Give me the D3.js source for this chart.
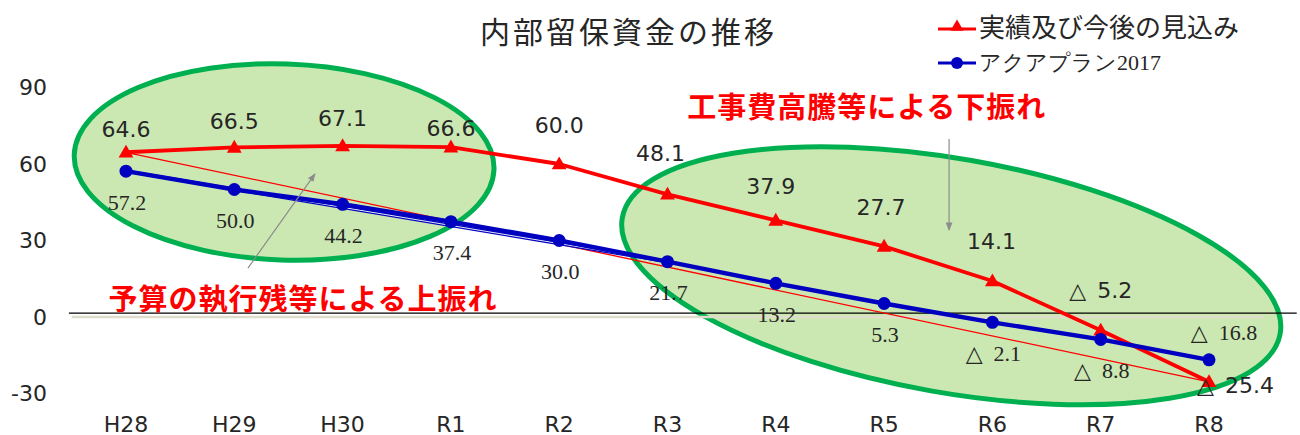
<!DOCTYPE html>
<html>
<head>
<meta charset="utf-8">
<script src="https://cdn.jsdelivr.net/npm/d3@7"></script>
<style>
	body { margin: 0; background: #fff; }
	svg { display: block; }
</style>
</head>
<body>
<svg id="chart" width="1300" height="435"></svg>
<script>
// data
const categories = ['H28', 'H29', 'H30', 'R1', 'R2', 'R3', 'R4', 'R5', 'R6', 'R7', 'R8'];
const actual = [64.6, 66.5, 67.1, 66.6, 60.0, 48.1, 37.9, 27.7, 14.1, -5.2, -25.4]; // 実績及び今後の見込み
const plan = [57.2, 50.0, 44.2, 37.4, 30.0, 21.7, 13.2, 5.3, -2.1, -8.8, -16.8]; // アクアプラン2017
const yTicks = [-30, 0, 30, 60, 90];

// label nudges (layout only)
const actualLabelDy = [-23, -26, -27, -19, -39, -41, -34, -39, -40, -40, 4];
const actualLabelDx = [0, 0, 0, 0, 0, -7, -5, -3, -1, 0, -12];

const RED = '#ff0000';
const BLUE = '#0000c0';
const TEXT = '#262626';
const SANS = '"DejaVu Sans", sans-serif';
const SERIF = '"Liberation Serif", "DejaVu Serif", serif';
const CJK = '"Noto Sans CJK JP", sans-serif';

const svg = d3.select('#chart');

const x = d3.scalePoint().domain(categories).range([126, 1209]);
const xi = d3.scaleLinear().domain([0, categories.length - 1]).range([126, 1209]);
const y = d3.scaleLinear().domain([-30, 90]).range([393.5, 87.5]);

// negative values are written with a triangle, japanese style
const fmt = v => v < 0 ? '△\u2002' + Math.abs(v).toFixed(1) : v.toFixed(1);

/* ellipses behind everything */
const ellipses = [
	{ i: 1.46, v: 60.8, rx: 210, ry: 98, rot: 2 },
	{ i: 7.62, v: 16.2, rx: 334, ry: 117, rot: 10 },
];
svg.selectAll('ellipse.hl').data(ellipses).enter().append('ellipse')
	.attr('class', 'hl')
	.attr('cx', 0).attr('cy', 0)
	.attr('rx', d => d.rx).attr('ry', d => d.ry)
	.attr('transform', d => `translate(${xi(d.i)},${y(d.v)}) rotate(${d.rot})`)
	.attr('fill', '#cce8b2')
	.attr('stroke', '#00b050')
	.attr('stroke-width', 5);

/* y axis labels */
svg.append('g').selectAll('text').data(yTicks).enter().append('text')
	.attr('x', 47).attr('y', d => y(d))
	.attr('text-anchor', 'end')
	.attr('dominant-baseline', 'central')
	.style('font-family', SANS).style('font-size', '22px').attr('fill', TEXT)
	.text(d => d);

/* x axis labels */
svg.append('g').selectAll('text').data(categories).enter().append('text')
	.attr('x', d => x(d)).attr('y', 424)
	.attr('text-anchor', 'middle')
	.attr('dominant-baseline', 'central')
	.style('font-family', SANS).style('font-size', '22px').attr('fill', TEXT)
	.text(d => d);

// axis line at zero plus the hand drawn black line just above it
svg.append('line')
	.attr('x1', xi(-0.5)).attr('x2', xi(10.5))
	.attr('y1', y(0)).attr('y2', y(0))
	.attr('stroke', '#dedccb').attr('stroke-width', 2.5);
svg.append('line')
	.attr('x1', xi(-0.527)).attr('x2', xi(10.81))
	.attr('y1', y(1.5)).attr('y2', y(1.5))
	.attr('stroke', '#000').attr('stroke-width', 1.3);

/* thin straight trend lines */
const first = 0, last = categories.length - 1;
svg.append('line')
	.attr('x1', x(categories[first])).attr('y1', y(actual[first]))
	.attr('x2', x(categories[last])).attr('y2', y(actual[last]))
	.attr('stroke', RED).attr('stroke-width', 1.3);
svg.append('line')
	.attr('x1', x(categories[0])).attr('y1', y(plan[0]))
	.attr('x2', x(categories[5])).attr('y2', y(plan[5]))
	.attr('stroke', BLUE).attr('stroke-width', 3.4);
svg.append('line')
	.attr('x1', x(categories[0])).attr('y1', y(plan[0]))
	.attr('x2', x(categories[5])).attr('y2', y(plan[5]))
	.attr('stroke', '#e6e8f4').attr('stroke-width', 1);

const line = d3.line().x((d, i) => x(categories[i])).y(d => y(d));
const tri = d3.symbol(d3.symbolTriangle, 95);

/* red series */
svg.append('path').datum(actual)
	.attr('d', line).attr('fill', 'none')
	.attr('stroke', RED).attr('stroke-width', 3.8).attr('stroke-linejoin', 'round');
svg.append('g').selectAll('path').data(actual).enter().append('path')
	.attr('d', tri)
	.attr('transform', (d, i) => `translate(${x(categories[i])},${y(d) + 1})`)
	.attr('fill', RED);

/* blue series */
svg.append('path').datum(plan)
	.attr('d', line).attr('fill', 'none')
	.attr('stroke', BLUE).attr('stroke-width', 4.4).attr('stroke-linejoin', 'round');
svg.append('g').selectAll('circle').data(plan).enter().append('circle')
	.attr('cx', (d, i) => x(categories[i])).attr('cy', d => y(d))
	.attr('r', 6.5).attr('fill', BLUE);

/* data labels */
svg.append('g').selectAll('text').data(actual).enter().append('text')
	.attr('x', (d, i) => x(categories[i]) + actualLabelDx[i])
	.attr('y', (d, i) => y(d) + actualLabelDy[i])
	.attr('text-anchor', (d, i) => i === last ? 'start' : 'middle')
	.attr('dominant-baseline', 'central')
	.style('font-family', SANS).style('font-size', '22px').attr('fill', TEXT)
	.text(fmt);

svg.append('g').selectAll('text').data(plan).enter().append('text')
	.attr('x', (d, i) => x(categories[i]) + (i === last ? 15 : 1))
	.attr('y', (d, i) => y(d) + (i === last ? -27 : 31))
	.attr('text-anchor', 'middle')
	.attr('dominant-baseline', 'central')
	.style('font-family', SERIF).style('font-size', '22px').attr('fill', TEXT)
	.text(fmt);

/* grey arrows */
svg.append('defs').append('marker')
	.attr('id', 'arr').attr('viewBox', '0 0 10 10')
	.attr('refX', 9).attr('refY', 5)
	.attr('markerWidth', 7).attr('markerHeight', 7)
	.attr('orient', 'auto-start-reverse')
	.append('path').attr('d', 'M0,1 L10,5 L0,9 z').attr('fill', '#8c8c8c');

const arrows = [
	{ i1: 1.126, v1: 19.2, i2: 1.745, v2: 56.1 },
	{ i1: 7.6, v1: 69.8, i2: 7.6, v2: 34.1 },
];
svg.append('g').selectAll('line').data(arrows).enter().append('line')
	.attr('x1', d => xi(d.i1)).attr('y1', d => y(d.v1))
	.attr('x2', d => xi(d.i2)).attr('y2', d => y(d.v2))
	.attr('stroke', '#8c8c8c').attr('stroke-width', 1.2)
	.attr('marker-end', 'url(#arr)');

/* red callouts */
const notes = [
	{ i: 6.84, v: 83.1, text: '工事費高騰等による下振れ' },
	{ i: 1.634, v: 7.8, text: '予算の執行残等による上振れ' },
];
svg.append('g').selectAll('text').data(notes).enter().append('text')
	.attr('x', d => xi(d.i)).attr('y', d => y(d.v))
	.attr('text-anchor', 'middle')
	.attr('dominant-baseline', 'central')
	.style('font-family', CJK).style('font-size', '29px').style('font-weight', 700)
	.style('letter-spacing', '1px')
	.attr('fill', RED)
	.text(d => d.text);

/* title */
svg.append('text')
	.attr('x', 480).attr('y', 30)
	.attr('dominant-baseline', 'central')
	.style('font-family', CJK).style('font-size', '30px').style('letter-spacing', '3px')
	.attr('fill', TEXT)
	.text('内部留保資金の推移');

/* legend */
const legend = svg.append('g').attr('transform', 'translate(938,0)');
legend.append('line').attr('x1', 0).attr('x2', 38).attr('y1', 29).attr('y2', 29)
	.attr('stroke', RED).attr('stroke-width', 3);
legend.append('path').attr('d', d3.symbol(d3.symbolTriangle, 75))
	.attr('transform', 'translate(19,27)').attr('fill', RED);
legend.append('text').attr('x', 41).attr('y', 25)
	.attr('dominant-baseline', 'central')
	.style('font-family', CJK).style('font-size', '26px').attr('fill', TEXT)
	.text('実績及び今後の見込み');
legend.append('line').attr('x1', 0).attr('x2', 38).attr('y1', 63).attr('y2', 63)
	.attr('stroke', BLUE).attr('stroke-width', 3);
legend.append('circle').attr('cx', 19).attr('cy', 63).attr('r', 6).attr('fill', BLUE);
legend.append('text').attr('x', 41).attr('y', 62)
	.attr('dominant-baseline', 'central')
	.style('font-family', SERIF).style('font-size', '22px').attr('fill', TEXT)
	.text('アクアプラン2017');

// page number peeking in at the bottom edge
svg.append('text').attr('x', 1279).attr('y', 452)
	.style('font-family', SANS).style('font-size', '22px').attr('fill', TEXT)
	.text('20');
</script>
</body>
</html>
